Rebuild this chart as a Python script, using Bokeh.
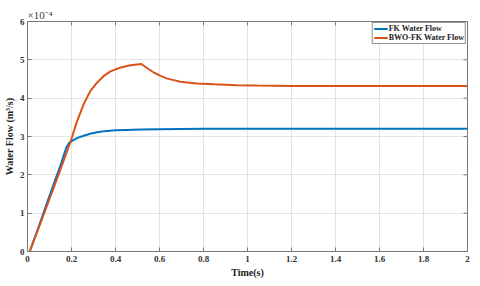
from bokeh.plotting import figure
from bokeh.models import FixedTicker, Range1d, Legend, LegendItem
from bokeh.embed import file_html
from bokeh.resources import INLINE

# ---- data ----
fk_time = [0.01, 0.05, 0.10, 0.15, 0.177, 0.19, 0.21, 0.23, 0.256, 0.285, 0.317, 0.35, 0.40, 0.45, 0.514, 0.60, 0.70, 0.80, 1.00, 1.50, 2.00]
fk_flow = [0.00, 0.63, 1.45, 2.25, 2.72, 2.84, 2.91, 2.97, 3.02, 3.07, 3.11, 3.14, 3.16, 3.17, 3.18, 3.19, 3.195, 3.20, 3.20, 3.20, 3.20]

bwo_time = [0.01, 0.05, 0.10, 0.15, 0.195, 0.226, 0.256, 0.286, 0.317, 0.347, 0.377, 0.423, 0.468, 0.518,
            0.545, 0.574, 0.605, 0.635, 0.665, 0.695, 0.735, 0.771, 0.847, 0.953, 1.044, 1.20, 1.50, 2.00]
bwo_flow = [0.00, 0.60, 1.37, 2.14, 2.85, 3.41, 3.85, 4.19, 4.41, 4.58, 4.70, 4.80, 4.86, 4.89,
            4.78, 4.67, 4.58, 4.51, 4.47, 4.43, 4.40, 4.38, 4.36, 4.34, 4.33, 4.32, 4.32, 4.32]

x_ticks = [0, 0.2, 0.4, 0.6, 0.8, 1.0, 1.2, 1.4, 1.6, 1.8, 2.0]
x_tick_labels = ["0", "0.2", "0.4", "0.6", "0.8", "1", "1.2", "1.4", "1.6", "1.8", "2"]
y_ticks = [0, 1, 2, 3, 4, 5, 6]
y_tick_labels = ["0", "1", "2", "3", "4", "5", "6"]

series_names = ["FK Water Flow", "BWO-FK Water Flow"]
series_colors = ["#0072BD", "#D95319"]

FONT = "Liberation Serif"
AXIS_COLOR = "#777777"

x_min, x_max = 0, 2
y_min, y_max = 0, 6

p = figure(width=472, height=280,
           output_backend="svg", toolbar_location=None,
           x_range=Range1d(x_min, x_max), y_range=Range1d(y_min, y_max),
           min_border_left=27, min_border_right=5, min_border_top=21, min_border_bottom=29)

p.title.text = "\u00d710\u207b\u2074"
p.title.align = "left"
p.title.text_font = FONT
p.title.text_font_size = "11px"
p.title.text_font_style = "normal"
p.title.text_color = "#404040"
p.title.offset = 0
p.title.standoff = 2

r1 = p.line(fk_time, fk_flow, line_color=series_colors[0], line_width=2)
r2 = p.line(bwo_time, bwo_flow, line_color=series_colors[1], line_width=2)

for ax in (p.xaxis[0], p.yaxis[0]):
    ax.axis_line_color = AXIS_COLOR
    ax.major_tick_line_color = AXIS_COLOR
    ax.minor_tick_line_color = None
    ax.major_tick_in = 4
    ax.major_tick_out = 0
    ax.major_label_text_font = FONT
    ax.major_label_text_font_size = "9px"
    ax.major_label_text_font_style = "bold"
    ax.major_label_text_color = "#333333"
    ax.axis_label_text_font = FONT
    ax.axis_label_text_font_size = "10px"
    ax.axis_label_text_font_style = "bold"
    ax.axis_label_text_color = "#222222"

p.xaxis[0].major_label_standoff = 4
p.xaxis[0].axis_label_standoff = 2
p.yaxis[0].major_label_standoff = 3
p.yaxis[0].axis_label_standoff = 2

p.xaxis[0].ticker = FixedTicker(ticks=x_ticks)
p.xaxis[0].major_label_overrides = dict(zip(x_ticks, x_tick_labels))
p.yaxis[0].ticker = FixedTicker(ticks=y_ticks)
p.yaxis[0].major_label_overrides = dict(zip(y_ticks, y_tick_labels))
p.xaxis[0].axis_label = "Time(s)"
p.yaxis[0].axis_label = "Water Flow (m\u00b3/s)"

p.xgrid.ticker = FixedTicker(ticks=x_ticks)
p.ygrid.ticker = FixedTicker(ticks=y_ticks)
p.grid.grid_line_color = "#e3e3e3"
p.grid.grid_line_width = 1

p.outline_line_color = AXIS_COLOR
p.outline_line_width = 1

# inner ticks on the top and right edges of the box
p.segment(x0=x_ticks, y0=[y_max] * len(x_ticks), x1=x_ticks, y1=[y_max - 0.1] * len(x_ticks),
          line_color=AXIS_COLOR, line_width=1)
p.segment(x0=[x_max] * len(y_ticks), y0=y_ticks, x1=[x_max - 0.018] * len(y_ticks), y1=y_ticks,
          line_color=AXIS_COLOR, line_width=1)

legend = Legend(items=[LegendItem(label=series_names[0], renderers=[r1]),
                       LegendItem(label=series_names[1], renderers=[r2])],
                location="top_right")
legend.label_text_font = FONT
legend.label_text_font_size = "8px"
legend.label_text_font_style = "bold"
legend.label_text_color = "#222222"
legend.label_height = 7
legend.label_standoff = 1
legend.glyph_height = 7
legend.glyph_width = 14
legend.spacing = 0
legend.padding = 1
legend.margin = 1
legend.border_line_color = "#222222"
legend.border_line_width = 1
legend.background_fill_alpha = 1
p.add_layout(legend)

open("out.html", "w").write(file_html(p, INLINE))
